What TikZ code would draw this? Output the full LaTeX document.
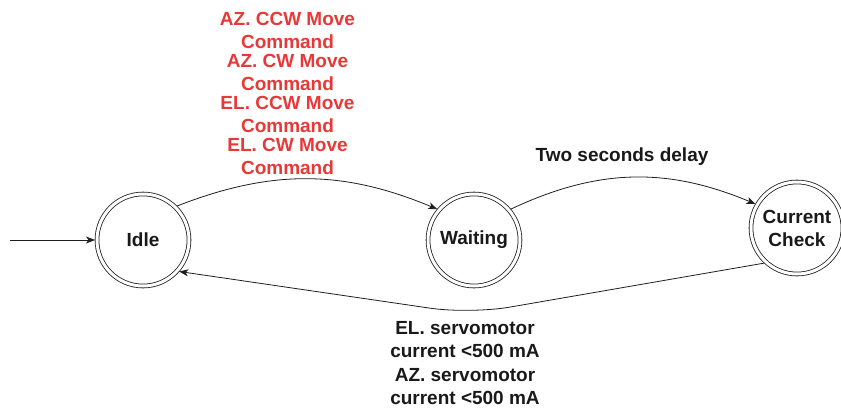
\documentclass[tikz,border=0pt]{standalone}
\usepackage{fontspec}
\setmainfont{Liberation Sans}
\usetikzlibrary{arrows.meta,shadows}

\definecolor{cmdred}{RGB}{232,56,56}
\definecolor{inkline}{RGB}{30,30,30}

\tikzset{
  labeltext/.style={inner sep=0pt, align=center,
    font=\bfseries\fontsize{19}{23}\selectfont},
  cmdlabel/.style={labeltext, text=cmdred},
  plainlabel/.style={labeltext, text=black!90},
  state/.style={circle, draw=inkline, line width=0.8pt, double=white,
    double distance=3pt, fill=white, minimum size=92pt, inner sep=0pt,
    outer sep=2pt, labeltext, text=black!90,
    drop shadow={shadow xshift=1.5pt, shadow yshift=-1.5pt, opacity=0.18}},
  edge/.style={draw=inkline, line width=0.8pt,
    -{Stealth[length=9pt, width=7pt, inset=2.5pt]}}
}

\begin{document}
\begin{tikzpicture}[x=1pt, y=-1pt]
  \useasboundingbox (0,0) rectangle (841,410);

  % states
  \node[state] (idle) at (143,240) {Idle};
  \node[state] (waiting) at (474,240) {Waiting};
  \node[state] (check) at (797,228) {Current\\Check};

  % initial arrow
  \coordinate (start) at (10,240);
  \draw[edge] (start) -- (idle.west);

  % transitions
  \draw[edge] (idle.45) to[bend left=22] (waiting.140);
  \draw[edge] (waiting.40) to[bend left=24] (check.150);
  \coordinate (dip) at (470,314);
  \draw[edge, rounded corners=40pt] (check.227) -- (dip) -- (idle.-41);

  % transition labels
  \node[cmdlabel] (azccw) at (287.5,30) {AZ. CCW Move\\Command};
  \node[cmdlabel] (azcw) at (287.5,72.5) {AZ. CW Move\\Command};
  \node[cmdlabel] (elccw) at (287.5,114.5) {EL. CCW Move\\Command};
  \node[cmdlabel] (elcw) at (287.5,156) {EL. CW Move\\Command};

  \node[plainlabel] (delay) at (622,157) {Two seconds delay};

  \node[plainlabel] (elcur) at (465,340) {EL. servomotor\\current <500 mA};
  \node[plainlabel] (azcur) at (465,387) {AZ. servomotor\\current <500 mA};
\end{tikzpicture}
\end{document}
